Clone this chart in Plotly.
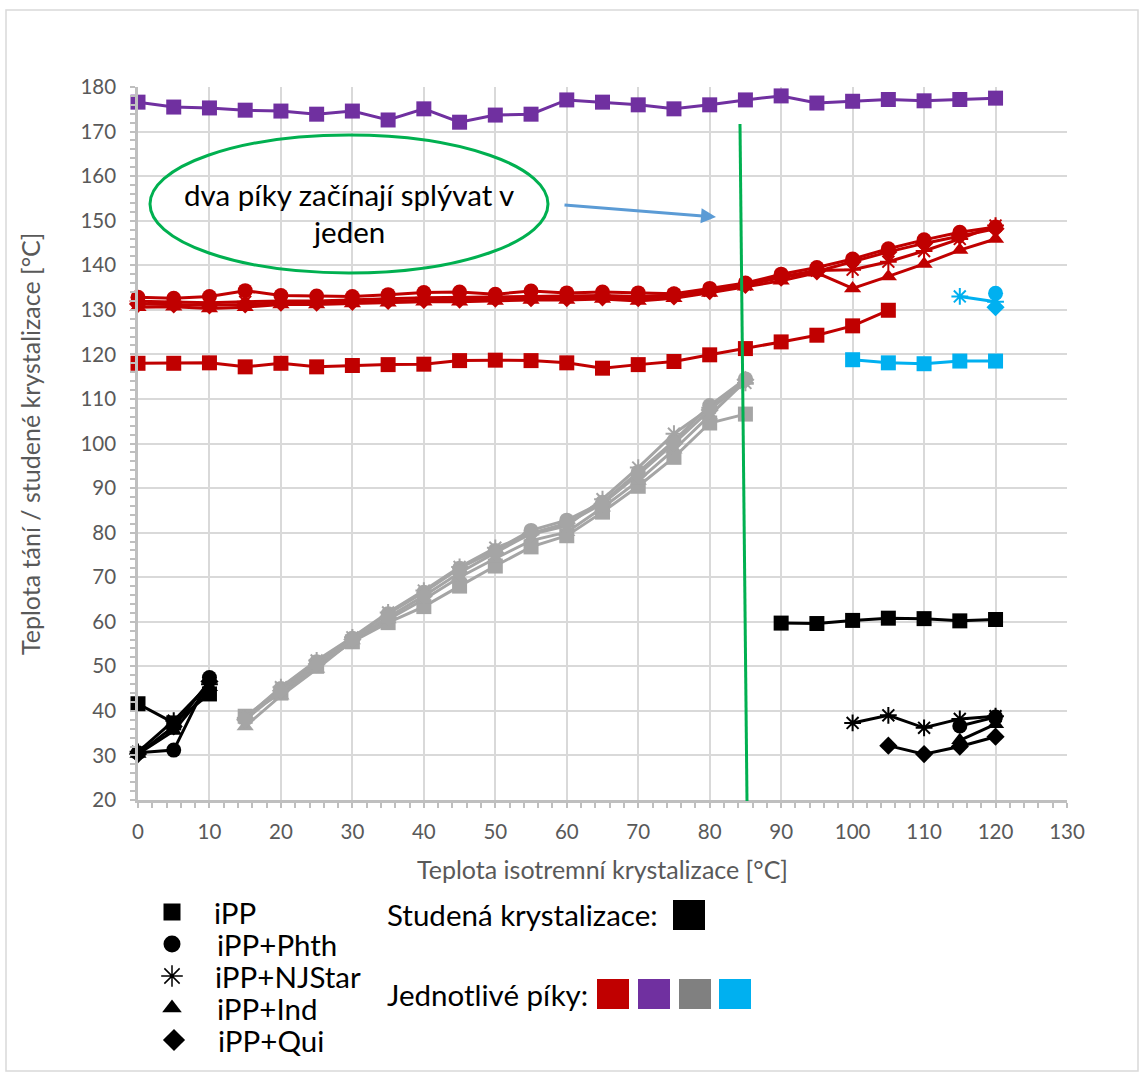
import plotly.graph_objects as go

W, H = 1139, 1072

# ---- isothermal crystallization temperatures [°C] ----
T_all = [0, 5, 10, 15, 20, 25, 30, 35, 40, 45, 50, 55, 60, 65, 70, 75, 80, 85, 90, 95, 100, 105, 110, 115, 120]
T_red_ipp = [0, 5, 10, 15, 20, 25, 30, 35, 40, 45, 50, 55, 60, 65, 70, 75, 80, 85, 90, 95, 100, 105]
T_gray = [15, 20, 25, 30, 35, 40, 45, 50, 55, 60, 65, 70, 75, 80, 85]
T_cold_low = [0, 5, 10]
T_cold_ipp_high = [90, 95, 100, 105, 110, 115, 120]
T_cold_njstar_high = [100, 105, 110, 115, 120]
T_cold_phth_high = [115, 120]
T_cold_ind_high = [115, 120]
T_cold_qui_high = [105, 110, 115, 120]
T_cyan_ipp = [100, 105, 110, 115, 120]
T_cyan_njstar = [115, 120]
T_cyan_phth = [120]
T_cyan_qui = [120]

# ---- peak temperatures [°C] ----
purple_ipp = [176.6, 175.5, 175.3, 174.8, 174.6, 173.9, 174.6, 172.6, 175.1, 172.1, 173.7, 173.9, 177.1,
              176.6, 176.0, 175.1, 176.0, 177.1, 178.0, 176.4, 176.8, 177.2, 176.9, 177.2, 177.5]

red_ipp = [118.0, 118.0, 118.1, 117.2, 118.0, 117.2, 117.5, 117.7, 117.8, 118.6, 118.7, 118.6, 118.1,
           116.9, 117.7, 118.4, 119.9, 121.3, 122.8, 124.3, 126.4, 129.9]
red_phth = [132.8, 132.6, 133.0, 134.3, 133.2, 133.1, 133.0, 133.4, 133.9, 134.0, 133.5, 134.2, 133.8,
            134.0, 133.8, 133.6, 134.8, 136.0, 138.0, 139.5, 141.4, 143.7, 145.7, 147.4, 148.6]
red_njstar = [131.9, 131.8, 131.6, 131.8, 132.0, 132.0, 132.3, 132.5, 132.7, 132.8, 132.8, 133.0, 133.0,
              133.2, 133.0, 133.3, 134.3, 135.7, 137.4, 138.8, 139.0, 140.8, 143.2, 145.9, 148.9]
red_ind = [130.6, 130.7, 130.3, 130.6, 131.2, 131.2, 131.4, 131.6, 131.8, 131.8, 132.0, 132.2, 132.2,
           132.4, 132.0, 132.6, 133.8, 135.2, 136.5, 138.3, 134.8, 137.5, 140.3, 143.4, 145.9]
red_qui = [131.3, 131.2, 131.0, 131.2, 131.6, 131.6, 131.8, 132.0, 132.2, 132.3, 132.5, 132.6, 132.6,
           132.8, 132.6, 133.0, 134.2, 135.6, 137.2, 138.6, 140.8, 143.0, 144.9, 146.6, 148.2]

gray_ipp = [38.8, 44.0, 50.0, 55.5, 59.8, 63.4, 68.0, 72.5, 76.8, 79.3, 84.6, 90.4, 96.9, 104.6, 106.6]
gray_phth = [38.6, 45.0, 51.0, 56.3, 61.8, 66.6, 72.0, 76.0, 80.5, 82.8, 86.8, 93.6, 100.6, 108.5, 114.5]
gray_njstar = [38.4, 45.3, 51.3, 56.5, 62.1, 67.0, 72.3, 76.6, 79.6, 81.5, 87.5, 94.6, 102.2, 108.0, 113.6]
gray_ind = [36.5, 43.4, 49.4, 55.8, 60.5, 65.0, 70.0, 74.2, 78.2, 80.1, 85.6, 91.6, 98.6, 106.2, 114.0]
gray_qui = [38.0, 44.5, 50.5, 56.0, 61.0, 65.8, 71.0, 75.5, 79.8, 82.1, 86.5, 93.0, 100.0, 107.5, 114.3]

cyan_ipp = [118.8, 118.1, 117.9, 118.5, 118.5]
cyan_njstar = [133.0, 131.8]
cyan_phth = [133.7]
cyan_qui = [130.6]

# ---- cold crystallization temperatures [°C] ----
cold_ipp_low = [41.6, 37.3, 43.8]
cold_phth_low = [30.6, 31.2, 47.5]
cold_njstar_low = [30.8, 37.8, 46.0]
cold_ind_low = [30.3, 35.5, 45.3]
cold_qui_low = [30.3, 36.5, 46.6]

cold_ipp_high = [59.7, 59.6, 60.3, 60.8, 60.7, 60.2, 60.5]
cold_njstar_high = [37.3, 39.0, 36.2, 38.2, 38.8]
cold_phth_high = [36.6, 38.6]
cold_ind_high = [33.4, 37.0]
cold_qui_high = [32.2, 30.3, 32.0, 34.2]

# ---- legend texts ----
sample_names = ["iPP", "iPP+Phth", "iPP+NJStar", "iPP+Ind", "iPP+Qui"]
cold_label = "Studená krystalizace:"
peaks_label = "Jednotlivé píky:"

RED, PURPLE, GRAY, CYAN, BLACK = "#c00000", "#7030a0", "#a5a5a5", "#00b0f0", "#000000"
SWATCH_GRAY = "#808080"
SYMBOLS = {"iPP": "square", "iPP+Phth": "circle", "iPP+NJStar": "asterisk-open",
           "iPP+Ind": "triangle-up", "iPP+Qui": "diamond"}
SIZES = {"square": 15, "circle": 15, "asterisk-open": 14, "triangle-up": 15, "diamond": 14}
FONT = "Lato"
TXT = "#595959"


def px(x):
    return x / W


def py(y):
    return 1 - y / H


def series(x, y, color, sample):
    sym = SYMBOLS[sample]
    return go.Scatter(
        x=x, y=y, mode="lines+markers", name=sample, showlegend=False,
        line=dict(color=color, width=3),
        marker=dict(symbol=sym, size=SIZES[sym], color=color,
                    line=dict(color=color, width=2 if sym == "asterisk-open" else 0)),
        cliponaxis=False,
    )


fig = go.Figure()

# melting peaks
for x, y, s in [(T_gray, gray_ipp, "iPP"), (T_gray, gray_phth, "iPP+Phth"), (T_gray, gray_njstar, "iPP+NJStar"),
                (T_gray, gray_ind, "iPP+Ind"), (T_gray, gray_qui, "iPP+Qui")]:
    fig.add_trace(series(x, y, GRAY, s))
for x, y, s in [(T_red_ipp, red_ipp, "iPP"), (T_all, red_qui, "iPP+Qui"), (T_all, red_ind, "iPP+Ind"),
                (T_all, red_njstar, "iPP+NJStar"), (T_all, red_phth, "iPP+Phth")]:
    fig.add_trace(series(x, y, RED, s))
fig.add_trace(series(T_all, purple_ipp, PURPLE, "iPP"))
for x, y, s in [(T_cyan_ipp, cyan_ipp, "iPP"), (T_cyan_njstar, cyan_njstar, "iPP+NJStar"),
                (T_cyan_qui, cyan_qui, "iPP+Qui"), (T_cyan_phth, cyan_phth, "iPP+Phth")]:
    fig.add_trace(series(x, y, CYAN, s))

# cold crystallization
for x, y, s in [(T_cold_low, cold_ipp_low, "iPP"), (T_cold_low, cold_phth_low, "iPP+Phth"),
                (T_cold_low, cold_njstar_low, "iPP+NJStar"), (T_cold_low, cold_ind_low, "iPP+Ind"),
                (T_cold_low, cold_qui_low, "iPP+Qui"),
                (T_cold_ipp_high, cold_ipp_high, "iPP"), (T_cold_njstar_high, cold_njstar_high, "iPP+NJStar"),
                (T_cold_qui_high, cold_qui_high, "iPP+Qui"), (T_cold_ind_high, cold_ind_high, "iPP+Ind"),
                (T_cold_phth_high, cold_phth_high, "iPP+Phth")]:
    fig.add_trace(series(x, y, BLACK, s))

# legend key symbols, placed on a hidden pixel-scaled axis pair below the chart
key_x = [172, 172, 172, 172, 174]
key_y = [912, 944, 976, 1008, 1040]
for name, kx, ky in zip(sample_names, key_x, key_y):
    sym = SYMBOLS[name]
    fig.add_trace(go.Scatter(
        x=[kx], y=[ky], xaxis="x2", yaxis="y2", mode="markers", showlegend=False,
        marker=dict(symbol=sym, size=17 if sym != "asterisk-open" else 18, color="black",
                    line=dict(color="black", width=1.5 if sym == "asterisk-open" else 0)),
        cliponaxis=False,
    ))

axis_common = dict(
    showline=True, linecolor="#bfbfbf", linewidth=2.5,
    ticks="outside", ticklen=5, tickcolor="#bfbfbf", tickwidth=1.5,
    showgrid=True, gridcolor="#d9d9d9", gridwidth=1.5,
    zeroline=False, automargin=False,
    tickfont=dict(family=FONT, size=20.5, color=TXT),
    minor=dict(dtick=2, ticks="outside", ticklen=5, tickcolor="#bfbfbf", tickwidth=1.5, showgrid=False),
)

fig.update_layout(
    width=W, height=H,
    margin=dict(l=0, r=0, t=0, b=0),
    paper_bgcolor="white", plot_bgcolor="rgba(0,0,0,0)",
    template="none",
    showlegend=False,
    xaxis=dict(domain=[px(138), px(1067)], range=[0, 130], dtick=10, tick0=0, anchor="y",
               ticklabelstandoff=7, **axis_common),
    yaxis=dict(domain=[py(800), py(87)], range=[20, 180], dtick=10, tick0=0, anchor="x",
               ticklabelstandoff=10, **axis_common),
    xaxis2=dict(domain=[0, 1], range=[0, W], visible=False, anchor="y2", fixedrange=True),
    yaxis2=dict(domain=[0, 0.2], range=[H, H - 0.2 * H], visible=False, anchor="x2", fixedrange=True),
)

shapes = [
    # outer frame
    dict(type="rect", xref="paper", yref="paper", x0=px(6), y0=py(1071), x1=px(1138), y1=py(10),
         line=dict(color="#d9d9d9", width=1.5), layer="below"),
    # ellipse around the note
    dict(type="circle", xref="paper", yref="paper", x0=px(150), x1=px(548), y0=py(273), y1=py(135),
         line=dict(color="#00b050", width=3)),
    # boundary where the two peaks merge
    dict(type="line", xref="paper", yref="paper", x0=px(740), y0=py(124), x1=px(747), y1=py(801),
         line=dict(color="#00b050", width=3)),
    # legend colour swatches
    dict(type="rect", xref="paper", yref="paper", x0=px(673), x1=px(705), y0=py(930), y1=py(900),
         fillcolor=BLACK, line=dict(width=0)),
]
for x0, c in [(597, RED), (638, PURPLE), (679, SWATCH_GRAY), (719, CYAN)]:
    shapes.append(dict(type="rect", xref="paper", yref="paper", x0=px(x0), x1=px(x0 + 32),
                       y0=py(1009), y1=py(979), fillcolor=c, line=dict(width=0)))
fig.update_layout(shapes=shapes)

ann = [
    dict(text="Teplota isotremní krystalizace [°C]", x=px(602), y=py(869), font=dict(size=25, color=TXT)),
    dict(text="Teplota tání / studené krystalizace [°C]", x=px(30), y=py(444), textangle=-90,
         font=dict(size=25, color=TXT)),
    dict(text="dva píky začínají splývat v", x=px(349), y=py(194), font=dict(size=29.5, color="black")),
    dict(text="jeden", x=px(348), y=py(232), font=dict(size=29.5, color="black")),
    dict(text=cold_label, x=px(385), y=py(914), xanchor="left", font=dict(size=29.5, color="black")),
    dict(text=peaks_label, x=px(385), y=py(995), xanchor="left", font=dict(size=29.5, color="black")),
]
label_x = [212, 215, 213, 215, 216]
for name, lx, ly in zip(sample_names, label_x, key_y):
    ann.append(dict(text=name, x=px(lx), y=py(ly), xanchor="left", font=dict(size=29.5, color="black")))

annotations = []
for a in ann:
    a.setdefault("xanchor", "center")
    a.update(xref="paper", yref="paper", yanchor="middle", showarrow=False)
    a["font"]["family"] = FONT
    annotations.append(a)

# blue arrow pointing at the merge line
annotations.append(dict(x=px(716), y=py(217), xref="paper", yref="paper", text="",
                        showarrow=True, axref="pixel", ayref="pixel", ax=-153, ay=-12,
                        arrowhead=2, arrowsize=1, arrowwidth=3, arrowcolor="#5b9bd5", standoff=0))
fig.update_layout(annotations=annotations)

fig.write_html("out.html")
